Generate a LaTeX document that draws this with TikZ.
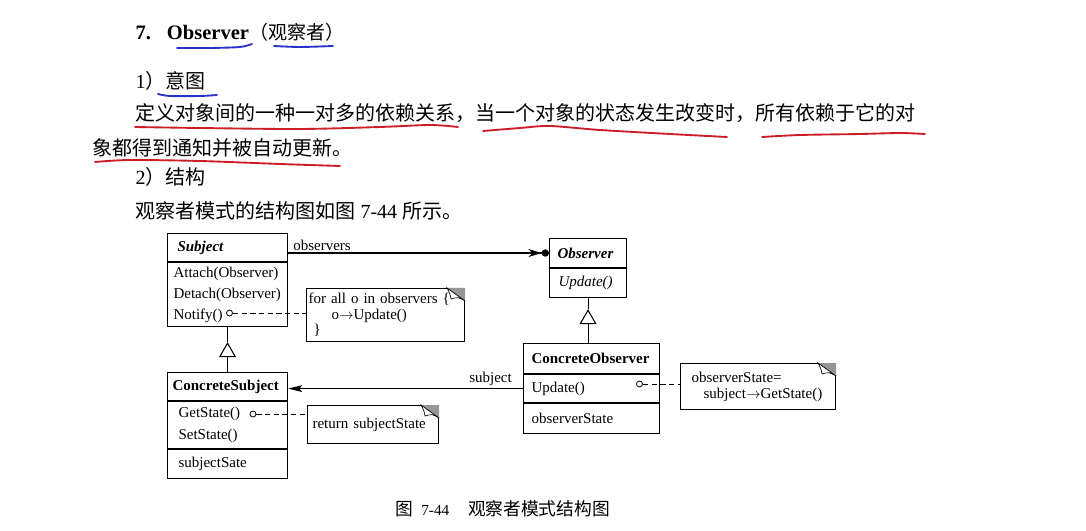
\documentclass[tikz,border=0pt]{standalone}
\usepackage{fontspec}
\setmainfont{Liberation Serif}
\newfontfamily\cjk{Noto Sans CJK SC}
\usetikzlibrary{arrows.meta,calc}
\definecolor{penred}{RGB}{205,30,40}
\definecolor{penblue}{RGB}{40,50,200}
\definecolor{eargray}{RGB}{150,150,150}
% folded corner of a note
\newcommand{\earmark}[1]{%
  \fill[eargray] ($(#1.north east)+(-18,0)$) -- (#1.north east) -- ($(#1.north east)+(0,13)$) -- cycle;
  \draw[fill=white,line width=.5pt] ($(#1.north east)+(-18,0)$) .. controls ($(#1.north east)+(-15,6)$) .. ($(#1.north east)+(-14,11)$)
    .. controls ($(#1.north east)+(-7,9)$) .. ($(#1.north east)+(0,13)$) -- cycle;}
\begin{document}
\begin{tikzpicture}[x=.75pt,y=-.75pt,line width=.8pt,font=\fontsize{11.25}{13.5}\selectfont,
  umlbox/.style={draw,anchor=north west,inner ysep=0pt,align=left,font=\fontsize{11.25}{15.75}\selectfont},
  memo/.style={draw,anchor=north west,inner ysep=0pt,align=left,font=\fontsize{11.25}{11.75}\selectfont},
  lollipop/.style={circle,draw,line width=.6pt,inner sep=0pt,minimum size=4.5pt},
  link/.style={dash pattern=on 4pt off 2.5pt,line width=.6pt},
  isa/.style={-{Triangle[open,length=11.25pt,width=12.75pt]}},
  hand/.style={line width=1.4pt,line cap=round},
  body/.style={anchor=base west,inner sep=0pt,font=\fontsize{15}{18}\selectfont}]
  \fill[white] (0,0) rectangle (1086,531);
  \useasboundingbox (0,0) rectangle (1086,531);
  % text above the figure
  \node[body] (head) at (135,40) {\fontsize{15.4}{18}\selectfont\bfseries 7.\hspace{12pt}Observer{\cjk\mdseries\fontsize{14.25}{18}\selectfont （观察者）}};
  \node[body] (intent) at (135,89) {1{\cjk ）意图}};
  \node[body] (line1) at (135,121) {\cjk 定义对象间的一种一对多的依赖关系，当一个对象的状态发生改变时，所有依赖于它的对};
  \node[body] (line2) at (92,156) {\cjk 象都得到通知并被自动更新。};
  \node[body] (struct) at (135,185) {2{\cjk ）结构}};
  \node[body] (lead) at (135,219) {{\cjk 观察者模式的结构图如图} 7-44 {\cjk 所示。}};
  % pen marks
  \draw[hand,penblue] plot[smooth] coordinates {(177,48) (210,48) (240,47) (252,44)};
  \draw[hand,penblue] plot[smooth] coordinates {(274,46) (300,47) (333,46)};
  \draw[hand,penblue] plot[smooth] coordinates {(158,94) (170,96) (200,96) (217,95)};
  \draw[hand,penred] plot[smooth] coordinates {(135,127) (200,128) (300,129) (380,127) (430,125) (458,127)};
  \draw[hand,penred] plot[smooth] coordinates {(483,131) (520,128) (550,126) (600,130) (670,134) (727,137)};
  \draw[hand,penred] plot[smooth] coordinates {(762,137) (800,135) (860,134) (900,133) (925,134)};
  \draw[hand,penred] plot[smooth] coordinates {(95,162) (130,160) (200,161) (280,164) (340,166)};
  % classes
  \node[umlbox,text width=75pt,inner xsep=7.5pt,minimum height=21pt] (subjT) at (167,233) {\textbf{\textit{Subject}}};
  \node[umlbox,text width=81pt,inner xsep=4.5pt,minimum height=48pt] (subjM) at (subjT.south west) {Attach(Observer)\\Detach(Observer)\\Notify()};
  \node[umlbox,text width=45.75pt,inner xsep=6pt,minimum height=21.75pt] (obsT) at (549,238) {\textbf{\textit{Observer}}};
  \node[umlbox,text width=44.25pt,inner xsep=6.75pt,minimum height=21.75pt] (obsM) at (obsT.south west) {\textit{Update()}};
  \node[umlbox,text width=82.5pt,inner xsep=3.75pt,minimum height=21pt] (csT) at (167,372) {\textbf{ConcreteSubject}};
  \node[umlbox,text width=73.5pt,inner xsep=8.25pt,minimum height=35.25pt,font=\fontsize{11.25}{16.5}\selectfont] (csM) at (csT.south west) {GetState()\\SetState()};
  \node[umlbox,text width=73.5pt,inner xsep=8.25pt,minimum height=21.75pt] (csA) at (csM.south west) {subjectSate};
  \node[umlbox,text width=90pt,inner xsep=6pt,minimum height=22.5pt] (coT) at (523,343) {\textbf{ConcreteObserver}};
  \node[umlbox,text width=90pt,inner xsep=6pt,minimum height=21pt] (coM) at (coT.south west) {Update()};
  \node[umlbox,text width=90pt,inner xsep=6pt,minimum height=22.5pt] (coA) at (coM.south west) {observerState};
  % notes
  \node[memo,text width=115.5pt,inner xsep=1.5pt,minimum height=39.75pt] (note1) at (306,288) {for all o in observers \{\\ \hspace*{17.25pt}o$\to$Update()\\ \hspace*{3.75pt}\}};
  \node[memo,text width=90.75pt,inner xsep=3.75pt,minimum height=28.5pt] (note2) at (307,405) {return subjectState};
  \node[memo,text width=99.75pt,inner xsep=8.25pt,minimum height=34.5pt,font=\fontsize{11.25}{12}\selectfont] (note3) at (680,363) {observerState=\\ \hspace*{9pt}subject$\to$GetState()};
  \earmark{note1}
  \earmark{note2}
  \earmark{note3}
  \node[lollipop] (knob1) at (229.5,313) {};
  \node[lollipop] (knob2) at (253,414) {};
  \node[lollipop] (knob3) at (639.5,384) {};
  \draw[link] (knob1) -- (knob1 -| note1.west);
  \draw[link] (knob2) -- (knob2 -| note2.west);
  \draw[link] (knob3) -- (knob3 -| note3.west);
  % generalisation
  \coordinate (tip1) at ($(subjM.south)+(0,15)$);
  \draw (subjM.south) -- (tip1);
  \draw[isa] (csT.north) -- (tip1);
  \coordinate (tip2) at ($(obsM.south)+(0,11)$);
  \draw (obsM.south) -- (tip2);
  \draw[isa] (obsM.south |- coT.north) -- (tip2);
  % associations
  \draw[-{Stealth[length=10pt,width=6pt]Circle[length=5.5pt]}] (obsT.west -| subjT.east) -- (obsT.west)
    node[pos=0,above right,inner sep=1.5pt,xshift=2pt] (lblobs) {observers};
  \draw[-{Stealth[length=10.5pt,width=5pt,inset=2pt]}] (coM.west) -- (coM.west -| csT.east)
    node[pos=0,above left,inner sep=2pt,xshift=-6pt] (lblsub) {subject};
  % caption
  \node[body,font=\fontsize{13.3}{16}\selectfont] (caption) at (395,515) {{\cjk 图}\hspace{6pt}{\fontsize{11.5}{13}\selectfont 7-44}\hspace{14pt}{\cjk 观察者模式结构图}};
\end{tikzpicture}
\end{document}
